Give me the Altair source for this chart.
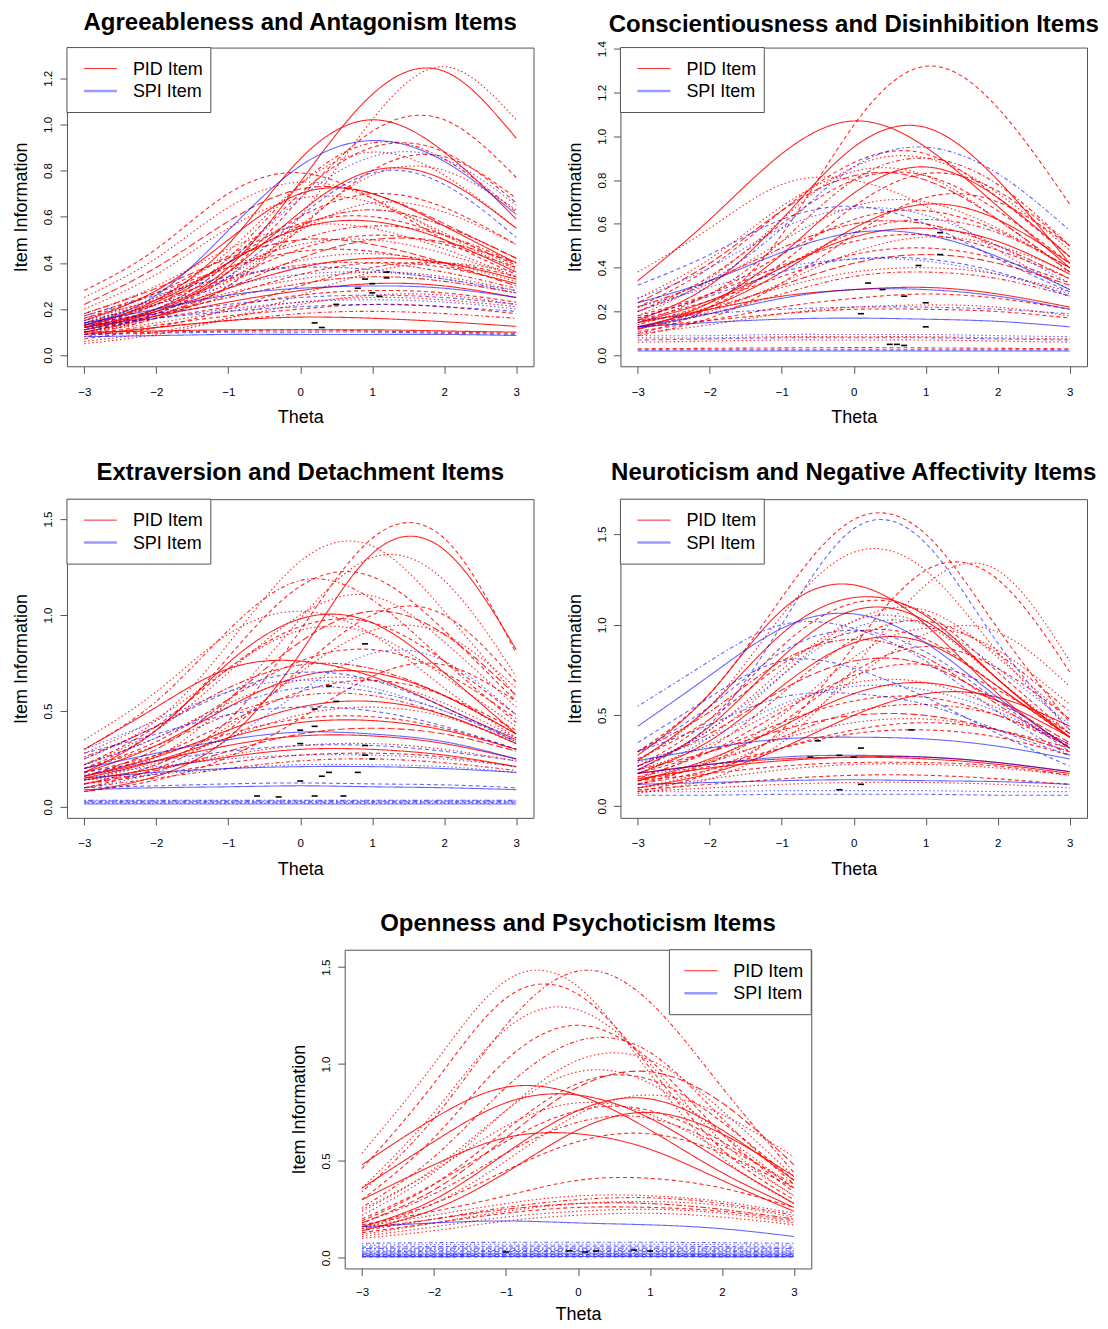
import altair as alt
import pandas as pd

THETA = [-3, -2, -1, 0, 1, 2, 3]
TYPES = ["PID Item", "SPI Item"]
LEGEND_LABELS = ["PID Item", "SPI Item"]
DASH_NAMES = ["S", "D", "O", "DD", "L", "T"]
DASH_PATTERNS = [[1, 0], [4, 3], [1.5, 2.5], [1.5, 2.5, 4, 2.5], [7, 3], [2, 2, 6, 2]]

TITLES = [
    "Agreeableness and Antagonism Items",
    "Conscientiousness and Disinhibition Items",
    "Extraversion and Detachment Items",
    "Neuroticism and Negative Affectivity Items",
    "Openness and Psychoticism Items",
]

# ---------------- Panel 1: Agreeableness / Antagonism ----------------
P1_PID = [
    ("S", [0.12, 0.20, 0.38, 0.75, 1.13, 1.23, 0.94]),
    ("O", [0.10, 0.16, 0.30, 0.60, 1.02, 1.25, 1.02]),
    ("S", [0.12, 0.24, 0.48, 0.85, 1.02, 0.88, 0.59]),
    ("D", [0.10, 0.18, 0.36, 0.68, 0.97, 1.02, 0.77]),
    ("DD", [0.13, 0.22, 0.42, 0.74, 0.92, 0.85, 0.62]),
    ("D", [0.11, 0.20, 0.40, 0.70, 0.90, 0.88, 0.66]),
    ("O", [0.14, 0.25, 0.45, 0.74, 0.88, 0.78, 0.55]),
    ("D", [0.28, 0.46, 0.70, 0.79, 0.68, 0.50, 0.35]),
    ("O", [0.25, 0.42, 0.64, 0.75, 0.68, 0.52, 0.37]),
    ("L", [0.22, 0.38, 0.58, 0.72, 0.70, 0.57, 0.42]),
    ("S", [0.15, 0.28, 0.50, 0.70, 0.70, 0.56, 0.40]),
    ("S", [0.13, 0.23, 0.40, 0.55, 0.58, 0.50, 0.36]),
    ("D", [0.12, 0.22, 0.40, 0.60, 0.70, 0.64, 0.48]),
    ("O", [0.11, 0.19, 0.34, 0.54, 0.66, 0.62, 0.48]),
    ("T", [0.14, 0.24, 0.40, 0.56, 0.63, 0.56, 0.42]),
    ("D", [0.16, 0.27, 0.43, 0.57, 0.60, 0.52, 0.39]),
    ("O", [0.18, 0.30, 0.46, 0.56, 0.55, 0.46, 0.34]),
    ("DD", [0.13, 0.22, 0.36, 0.50, 0.56, 0.52, 0.40]),
    ("D", [0.12, 0.20, 0.33, 0.46, 0.52, 0.48, 0.38]),
    ("O", [0.15, 0.25, 0.38, 0.48, 0.50, 0.44, 0.34]),
    ("L", [0.10, 0.17, 0.29, 0.42, 0.50, 0.49, 0.40]),
    ("D", [0.17, 0.27, 0.38, 0.45, 0.45, 0.39, 0.31]),
    ("O", [0.14, 0.22, 0.32, 0.41, 0.44, 0.40, 0.32]),
    ("S", [0.12, 0.19, 0.29, 0.38, 0.42, 0.40, 0.33]),
    ("DD", [0.16, 0.24, 0.33, 0.39, 0.40, 0.36, 0.29]),
    ("D", [0.11, 0.17, 0.26, 0.35, 0.40, 0.38, 0.31]),
    ("O", [0.13, 0.19, 0.27, 0.33, 0.36, 0.34, 0.28]),
    ("T", [0.12, 0.18, 0.25, 0.31, 0.34, 0.32, 0.27]),
    ("S", [0.12, 0.17, 0.23, 0.28, 0.31, 0.30, 0.25]),
    ("D", [0.11, 0.16, 0.21, 0.26, 0.28, 0.27, 0.23]),
    ("O", [0.10, 0.14, 0.19, 0.23, 0.25, 0.24, 0.21]),
    ("D", [0.09, 0.13, 0.17, 0.20, 0.22, 0.21, 0.18]),
    ("DD", [0.08, 0.12, 0.15, 0.18, 0.19, 0.18, 0.16]),
    ("S", [0.09, 0.12, 0.15, 0.165, 0.16, 0.145, 0.125]),
    ("S", [0.10, 0.105, 0.11, 0.11, 0.11, 0.105, 0.10]),
    ("D", [0.09, 0.10, 0.105, 0.11, 0.105, 0.10, 0.095]),
    ("O", [0.06, 0.10, 0.16, 0.22, 0.26, 0.26, 0.22]),
    ("D", [0.07, 0.12, 0.20, 0.30, 0.38, 0.40, 0.34]),
    ("O", [0.05, 0.09, 0.16, 0.26, 0.36, 0.40, 0.36]),
    ("L", [0.18, 0.29, 0.42, 0.50, 0.48, 0.40, 0.30]),
    ("O", [0.20, 0.35, 0.55, 0.68, 0.66, 0.53, 0.38]),
    ("D", [0.09, 0.16, 0.30, 0.55, 0.80, 0.86, 0.68]),
    ("O", [0.10, 0.17, 0.32, 0.56, 0.78, 0.80, 0.63]),
    ("S", [0.11, 0.19, 0.36, 0.62, 0.80, 0.76, 0.55]),
]
P1_SPI = [
    ("S", [0.13, 0.26, 0.54, 0.82, 0.93, 0.84, 0.61]),
    ("O", [0.11, 0.20, 0.40, 0.68, 0.86, 0.85, 0.65]),
    ("D", [0.10, 0.18, 0.34, 0.60, 0.79, 0.74, 0.51]),
    ("DD", [0.17, 0.26, 0.34, 0.38, 0.37, 0.33, 0.28]),
    ("S", [0.14, 0.20, 0.26, 0.29, 0.30, 0.29, 0.25]),
    ("D", [0.14, 0.18, 0.22, 0.25, 0.26, 0.25, 0.22]),
    ("O", [0.12, 0.16, 0.20, 0.23, 0.24, 0.23, 0.20]),
    ("D", [0.13, 0.16, 0.19, 0.21, 0.22, 0.21, 0.19]),
    ("S", [0.08, 0.085, 0.09, 0.09, 0.09, 0.09, 0.085]),
    ("D", [0.09, 0.095, 0.10, 0.10, 0.10, 0.095, 0.09]),
    ("O", [0.15, 0.22, 0.30, 0.35, 0.36, 0.33, 0.27]),
]
P1_MARK_T = [1.2, 0.9, 0.8, 1.0, 1.0, 1.1, 0.5, 0.2, 0.3, 1.2]
P1_MARK_V = [0.36, 0.33, 0.29, 0.31, 0.27, 0.255, 0.22, 0.14, 0.12, 0.335]

# ---------------- Panel 2: Conscientiousness / Disinhibition ----------------
P2_PID = [
    ("D", [0.10, 0.22, 0.55, 1.05, 1.32, 1.13, 0.69]),
    ("S", [0.34, 0.62, 0.92, 1.07, 0.95, 0.68, 0.40]),
    ("S", [0.16, 0.32, 0.62, 0.95, 1.04, 0.80, 0.42]),
    ("D", [0.22, 0.40, 0.66, 0.88, 0.92, 0.72, 0.45]),
    ("O", [0.18, 0.35, 0.62, 0.86, 0.90, 0.74, 0.48]),
    ("DD", [0.15, 0.28, 0.52, 0.80, 0.90, 0.78, 0.50]),
    ("O", [0.38, 0.58, 0.78, 0.80, 0.68, 0.48, 0.30]),
    ("L", [0.24, 0.42, 0.66, 0.82, 0.80, 0.62, 0.38]),
    ("D", [0.12, 0.22, 0.42, 0.68, 0.83, 0.75, 0.50]),
    ("S", [0.13, 0.22, 0.38, 0.58, 0.69, 0.62, 0.42]),
    ("O", [0.20, 0.33, 0.52, 0.68, 0.70, 0.58, 0.40]),
    ("D", [0.17, 0.28, 0.46, 0.62, 0.66, 0.57, 0.40]),
    ("T", [0.22, 0.34, 0.49, 0.60, 0.60, 0.50, 0.35]),
    ("DD", [0.14, 0.24, 0.40, 0.56, 0.62, 0.56, 0.40]),
    ("S", [0.15, 0.25, 0.40, 0.54, 0.58, 0.52, 0.37]),
    ("D", [0.18, 0.28, 0.41, 0.52, 0.55, 0.48, 0.35]),
    ("O", [0.12, 0.20, 0.33, 0.47, 0.54, 0.50, 0.38]),
    ("D", [0.16, 0.25, 0.36, 0.46, 0.49, 0.44, 0.33]),
    ("L", [0.13, 0.21, 0.32, 0.42, 0.46, 0.42, 0.32]),
    ("O", [0.15, 0.22, 0.31, 0.38, 0.40, 0.37, 0.29]),
    ("DD", [0.12, 0.19, 0.28, 0.36, 0.38, 0.35, 0.27]),
    ("S", [0.15, 0.21, 0.27, 0.30, 0.31, 0.28, 0.22]),
    ("D", [0.11, 0.16, 0.22, 0.26, 0.28, 0.26, 0.21]),
    ("O", [0.10, 0.14, 0.19, 0.22, 0.23, 0.22, 0.18]),
    ("D", [0.13, 0.16, 0.19, 0.21, 0.21, 0.20, 0.17]),
    ("O", [0.06, 0.065, 0.07, 0.07, 0.07, 0.065, 0.06]),
    ("D", [0.03, 0.032, 0.034, 0.035, 0.034, 0.032, 0.03]),
    ("O", [0.08, 0.08, 0.085, 0.085, 0.085, 0.08, 0.075]),
    ("D", [0.20, 0.36, 0.60, 0.80, 0.82, 0.66, 0.42]),
    ("O", [0.26, 0.44, 0.68, 0.84, 0.82, 0.62, 0.38]),
    ("D", [0.09, 0.17, 0.33, 0.55, 0.72, 0.70, 0.50]),
    ("S", [0.12, 0.24, 0.46, 0.74, 0.86, 0.72, 0.45]),
]
P2_SPI = [
    ("DD", [0.20, 0.34, 0.58, 0.86, 0.95, 0.83, 0.57]),
    ("S", [0.24, 0.34, 0.47, 0.56, 0.55, 0.45, 0.30]),
    ("D", [0.32, 0.46, 0.62, 0.68, 0.60, 0.44, 0.29]),
    ("O", [0.22, 0.31, 0.40, 0.44, 0.43, 0.37, 0.28]),
    ("D", [0.17, 0.27, 0.38, 0.44, 0.44, 0.38, 0.27]),
    ("S", [0.13, 0.19, 0.26, 0.30, 0.30, 0.27, 0.21]),
    ("S", [0.13, 0.15, 0.165, 0.17, 0.165, 0.155, 0.13]),
    ("DD", [0.16, 0.19, 0.21, 0.22, 0.22, 0.21, 0.19]),
    ("D", [0.07, 0.075, 0.08, 0.08, 0.08, 0.075, 0.07]),
    ("S", [0.02, 0.02, 0.02, 0.02, 0.02, 0.02, 0.02]),
    ("D", [0.025, 0.025, 0.025, 0.025, 0.025, 0.025, 0.025]),
    ("O", [0.09, 0.09, 0.095, 0.095, 0.095, 0.09, 0.085]),
    ("O", [0.26, 0.40, 0.58, 0.67, 0.64, 0.50, 0.33]),
]
P2_MARK_T = [1.2, 1.2, 0.9, 0.2, 0.4, 0.7, 1.0, 0.1, 1.0, 0.5, 0.7, 0.6]
P2_MARK_V = [0.56, 0.46, 0.41, 0.33, 0.30, 0.27, 0.24, 0.19, 0.13, 0.05, 0.045, 0.05]

# ---------------- Panel 3: Extraversion / Detachment ----------------
P3_PID = [
    ("D", [0.12, 0.22, 0.45, 0.92, 1.40, 1.40, 0.80]),
    ("S", [0.08, 0.16, 0.36, 0.80, 1.32, 1.34, 0.82]),
    ("O", [0.25, 0.45, 0.85, 1.28, 1.36, 1.02, 0.58]),
    ("O", [0.14, 0.26, 0.55, 0.98, 1.30, 1.18, 0.68]),
    ("D", [0.20, 0.40, 0.78, 1.15, 1.20, 0.92, 0.55]),
    ("DD", [0.30, 0.55, 0.92, 1.18, 1.08, 0.76, 0.44]),
    ("S", [0.18, 0.40, 0.75, 0.98, 0.96, 0.70, 0.38]),
    ("S", [0.30, 0.52, 0.72, 0.76, 0.68, 0.52, 0.35]),
    ("O", [0.35, 0.60, 0.90, 1.02, 0.90, 0.62, 0.36]),
    ("D", [0.22, 0.42, 0.72, 0.94, 0.96, 0.76, 0.48]),
    ("L", [0.16, 0.30, 0.56, 0.86, 1.02, 0.90, 0.58]),
    ("O", [0.12, 0.22, 0.42, 0.70, 0.92, 0.90, 0.62]),
    ("D", [0.20, 0.34, 0.56, 0.76, 0.82, 0.70, 0.46]),
    ("T", [0.26, 0.42, 0.62, 0.74, 0.72, 0.58, 0.38]),
    ("S", [0.18, 0.32, 0.52, 0.68, 0.70, 0.58, 0.38]),
    ("O", [0.22, 0.36, 0.54, 0.66, 0.66, 0.54, 0.36]),
    ("D", [0.16, 0.27, 0.44, 0.60, 0.66, 0.58, 0.40]),
    ("DD", [0.20, 0.32, 0.48, 0.58, 0.58, 0.48, 0.33]),
    ("S", [0.16, 0.26, 0.40, 0.52, 0.55, 0.48, 0.33]),
    ("O", [0.14, 0.23, 0.36, 0.48, 0.52, 0.47, 0.34]),
    ("D", [0.18, 0.27, 0.38, 0.46, 0.47, 0.41, 0.30]),
    ("S", [0.16, 0.24, 0.32, 0.37, 0.37, 0.33, 0.25]),
    ("O", [0.14, 0.20, 0.27, 0.32, 0.33, 0.30, 0.24]),
    ("D", [0.12, 0.17, 0.23, 0.27, 0.28, 0.26, 0.21]),
    ("DD", [0.10, 0.15, 0.20, 0.24, 0.25, 0.23, 0.19]),
    ("O", [0.28, 0.46, 0.72, 0.92, 0.90, 0.68, 0.42]),
    ("D", [0.10, 0.20, 0.40, 0.72, 1.00, 1.00, 0.65]),
    ("S", [0.15, 0.24, 0.36, 0.44, 0.45, 0.40, 0.30]),
    ("L", [0.12, 0.19, 0.29, 0.38, 0.41, 0.38, 0.29]),
    ("O", [0.22, 0.40, 0.70, 1.00, 1.10, 0.86, 0.52]),
    ("D", [0.08, 0.14, 0.26, 0.46, 0.68, 0.74, 0.55]),
    ("S", [0.14, 0.20, 0.26, 0.30, 0.30, 0.27, 0.21]),
]
P3_SPI = [
    ("O", [0.10, 0.18, 0.35, 0.60, 0.80, 0.76, 0.48]),
    ("D", [0.25, 0.42, 0.60, 0.70, 0.66, 0.52, 0.34]),
    ("O", [0.30, 0.45, 0.60, 0.66, 0.62, 0.50, 0.36]),
    ("DD", [0.22, 0.36, 0.52, 0.62, 0.60, 0.50, 0.34]),
    ("S", [0.20, 0.28, 0.35, 0.39, 0.38, 0.34, 0.25]),
    ("D", [0.18, 0.24, 0.29, 0.32, 0.32, 0.29, 0.24]),
    ("O", [0.17, 0.21, 0.25, 0.27, 0.27, 0.25, 0.21]),
    ("S", [0.15, 0.18, 0.20, 0.21, 0.21, 0.20, 0.18]),
    ("D", [0.10, 0.11, 0.12, 0.125, 0.12, 0.115, 0.10]),
    ("S", [0.09, 0.10, 0.105, 0.11, 0.105, 0.10, 0.09]),
    ("D", [0.025, 0.025, 0.025, 0.025, 0.025, 0.025, 0.025]),
    ("O", [0.02, 0.02, 0.02, 0.02, 0.02, 0.02, 0.02]),
    ("DD", [0.03, 0.03, 0.03, 0.03, 0.03, 0.03, 0.03]),
    ("S", [0.015, 0.015, 0.015, 0.015, 0.015, 0.015, 0.015]),
    ("T", [0.035, 0.035, 0.035, 0.035, 0.035, 0.035, 0.035]),
    ("D", [0.28, 0.38, 0.48, 0.52, 0.50, 0.42, 0.30]),
    ("O", [0.14, 0.17, 0.20, 0.22, 0.22, 0.21, 0.18]),
]
P3_MARK_T = [0.9, 0.4, 0.5, 0.2, 0.0, 0.2, 0.0, 0.9, 0.9, 1.0, 0.8, 0.3, 0.4, 0.0, -0.6, -0.3, 0.2, 0.6]
P3_MARK_V = [0.85, 0.63, 0.55, 0.51, 0.40, 0.42, 0.33, 0.32, 0.27, 0.25, 0.18, 0.16, 0.18, 0.135, 0.057, 0.052, 0.057, 0.057]

# ---------------- Panel 4: Neuroticism / Negative Affectivity ----------------
P4_PID = [
    ("D", [0.30, 0.62, 1.15, 1.58, 1.50, 0.98, 0.46]),
    ("O", [0.25, 0.55, 1.05, 1.40, 1.30, 0.85, 0.42]),
    ("D", [0.08, 0.18, 0.42, 0.88, 1.30, 1.25, 0.74]),
    ("O", [0.07, 0.15, 0.35, 0.76, 1.22, 1.30, 0.80]),
    ("S", [0.28, 0.62, 1.08, 1.22, 1.00, 0.62, 0.32]),
    ("S", [0.25, 0.55, 0.95, 1.15, 1.05, 0.70, 0.38]),
    ("D", [0.22, 0.48, 0.88, 1.12, 1.06, 0.74, 0.40]),
    ("O", [0.18, 0.38, 0.72, 1.02, 1.08, 0.82, 0.48]),
    ("S", [0.20, 0.44, 0.82, 1.08, 1.02, 0.70, 0.38]),
    ("DD", [0.15, 0.32, 0.62, 0.92, 1.02, 0.84, 0.52]),
    ("D", [0.26, 0.48, 0.78, 0.96, 0.92, 0.66, 0.38]),
    ("O", [0.12, 0.25, 0.50, 0.82, 0.98, 0.86, 0.56]),
    ("S", [0.18, 0.36, 0.66, 0.90, 0.90, 0.66, 0.38]),
    ("L", [0.22, 0.40, 0.64, 0.80, 0.78, 0.58, 0.35]),
    ("D", [0.16, 0.30, 0.52, 0.72, 0.78, 0.64, 0.40]),
    ("O", [0.20, 0.34, 0.54, 0.68, 0.68, 0.54, 0.34]),
    ("S", [0.14, 0.26, 0.44, 0.62, 0.68, 0.58, 0.38]),
    ("D", [0.18, 0.30, 0.46, 0.58, 0.60, 0.50, 0.33]),
    ("DD", [0.14, 0.24, 0.38, 0.52, 0.56, 0.50, 0.34]),
    ("O", [0.16, 0.25, 0.37, 0.46, 0.48, 0.42, 0.30]),
    ("D", [0.14, 0.22, 0.32, 0.40, 0.42, 0.38, 0.28]),
    ("S", [0.18, 0.23, 0.26, 0.27, 0.26, 0.23, 0.18]),
    ("S", [0.15, 0.21, 0.25, 0.27, 0.27, 0.24, 0.19]),
    ("D", [0.14, 0.18, 0.22, 0.24, 0.24, 0.22, 0.17]),
    ("O", [0.10, 0.15, 0.20, 0.23, 0.23, 0.21, 0.17]),
    ("D", [0.09, 0.12, 0.15, 0.17, 0.17, 0.15, 0.12]),
    ("O", [0.08, 0.10, 0.12, 0.13, 0.13, 0.12, 0.10]),
    ("T", [0.30, 0.52, 0.80, 0.92, 0.82, 0.56, 0.32]),
    ("O", [0.10, 0.20, 0.40, 0.70, 0.95, 0.96, 0.66]),
    ("D", [0.12, 0.24, 0.46, 0.74, 0.88, 0.76, 0.48]),
    ("S", [0.10, 0.18, 0.32, 0.50, 0.62, 0.60, 0.44]),
    ("O", [0.22, 0.42, 0.75, 1.02, 1.00, 0.70, 0.40]),
    ("D", [0.12, 0.20, 0.32, 0.42, 0.46, 0.42, 0.32]),
    ("L", [0.20, 0.30, 0.42, 0.50, 0.50, 0.42, 0.30]),
]
P4_SPI = [
    ("D", [0.20, 0.45, 1.00, 1.53, 1.45, 0.90, 0.42]),
    ("S", [0.44, 0.72, 0.98, 1.06, 0.90, 0.60, 0.32]),
    ("DD", [0.55, 0.80, 1.00, 0.98, 0.80, 0.52, 0.28]),
    ("O", [0.22, 0.42, 0.72, 0.98, 1.00, 0.76, 0.45]),
    ("D", [0.30, 0.55, 0.85, 0.97, 0.85, 0.58, 0.30]),
    ("D", [0.35, 0.60, 0.80, 0.76, 0.60, 0.40, 0.22]),
    ("DD", [0.30, 0.45, 0.60, 0.62, 0.56, 0.42, 0.28]),
    ("S", [0.25, 0.32, 0.37, 0.38, 0.37, 0.33, 0.26]),
    ("S", [0.12, 0.13, 0.14, 0.145, 0.14, 0.135, 0.12]),
    ("D", [0.06, 0.06, 0.065, 0.065, 0.065, 0.06, 0.06]),
    ("O", [0.08, 0.08, 0.085, 0.085, 0.085, 0.08, 0.08]),
    ("S", [0.18, 0.23, 0.27, 0.28, 0.27, 0.24, 0.19]),
    ("O", [0.24, 0.38, 0.56, 0.66, 0.64, 0.52, 0.34]),
]
P4_MARK_T = [0.8, -0.5, 0.1, -0.6, -0.2, 0.0, 0.1, -0.2]
P4_MARK_V = [0.42, 0.36, 0.32, 0.27, 0.28, 0.27, 0.12, 0.09]

# ---------------- Panel 5: Openness / Psychoticism ----------------
P5_PID = [
    ("O", [0.54, 1.00, 1.43, 1.40, 0.95, 0.52, 0.28]),
    ("DD", [0.34, 0.72, 1.20, 1.48, 1.32, 0.88, 0.44]),
    ("D", [0.46, 0.90, 1.34, 1.36, 0.98, 0.56, 0.30]),
    ("O", [0.36, 0.75, 1.18, 1.28, 1.00, 0.60, 0.32]),
    ("D", [0.30, 0.62, 1.02, 1.20, 1.02, 0.64, 0.34]),
    ("DD", [0.26, 0.52, 0.88, 1.12, 1.06, 0.72, 0.38]),
    ("O", [0.22, 0.44, 0.76, 1.02, 1.02, 0.76, 0.42]),
    ("L", [0.18, 0.35, 0.62, 0.88, 0.96, 0.80, 0.48]),
    ("O", [0.15, 0.28, 0.50, 0.74, 0.84, 0.74, 0.52]),
    ("S", [0.48, 0.72, 0.88, 0.84, 0.66, 0.44, 0.26]),
    ("S", [0.36, 0.60, 0.80, 0.84, 0.72, 0.50, 0.28]),
    ("S", [0.16, 0.30, 0.54, 0.76, 0.82, 0.66, 0.40]),
    ("S", [0.14, 0.25, 0.44, 0.66, 0.75, 0.64, 0.42]),
    ("S", [0.30, 0.48, 0.62, 0.64, 0.56, 0.40, 0.24]),
    ("D", [0.20, 0.38, 0.60, 0.76, 0.76, 0.60, 0.36]),
    ("O", [0.25, 0.45, 0.68, 0.80, 0.74, 0.55, 0.32]),
    ("DD", [0.18, 0.33, 0.54, 0.70, 0.72, 0.58, 0.38]),
    ("D", [0.16, 0.28, 0.45, 0.60, 0.64, 0.54, 0.36]),
    ("D", [0.17, 0.24, 0.32, 0.40, 0.41, 0.36, 0.26]),
    ("O", [0.16, 0.22, 0.28, 0.32, 0.32, 0.29, 0.23]),
    ("DD", [0.14, 0.20, 0.26, 0.30, 0.31, 0.28, 0.22]),
    ("O", [0.12, 0.18, 0.24, 0.28, 0.29, 0.27, 0.21]),
    ("D", [0.13, 0.18, 0.23, 0.26, 0.26, 0.24, 0.19]),
    ("O", [0.11, 0.16, 0.21, 0.24, 0.25, 0.23, 0.18]),
    ("T", [0.15, 0.20, 0.25, 0.28, 0.28, 0.25, 0.20]),
    ("O", [0.10, 0.14, 0.19, 0.22, 0.23, 0.21, 0.17]),
    ("D", [0.19, 0.38, 0.66, 0.90, 0.92, 0.70, 0.40]),
    ("O", [0.24, 0.46, 0.76, 0.96, 0.90, 0.64, 0.36]),
]
P5_SPI = [
    ("S", [0.16, 0.18, 0.19, 0.18, 0.17, 0.15, 0.11]),
    ("DD", [0.075, 0.078, 0.08, 0.08, 0.08, 0.078, 0.075]),
    ("O", [0.065, 0.068, 0.07, 0.07, 0.07, 0.068, 0.065]),
    ("D", [0.055, 0.058, 0.06, 0.06, 0.06, 0.058, 0.055]),
    ("T", [0.048, 0.05, 0.05, 0.05, 0.05, 0.05, 0.048]),
    ("O", [0.04, 0.042, 0.043, 0.043, 0.043, 0.042, 0.04]),
    ("DD", [0.035, 0.036, 0.037, 0.037, 0.037, 0.036, 0.035]),
    ("D", [0.03, 0.031, 0.032, 0.032, 0.032, 0.031, 0.03]),
    ("O", [0.025, 0.026, 0.026, 0.026, 0.026, 0.026, 0.025]),
    ("S", [0.02, 0.02, 0.021, 0.021, 0.021, 0.02, 0.02]),
    ("D", [0.016, 0.016, 0.017, 0.017, 0.017, 0.016, 0.016]),
    ("DD", [0.012, 0.012, 0.013, 0.013, 0.013, 0.012, 0.012]),
    ("O", [0.009, 0.009, 0.01, 0.01, 0.01, 0.009, 0.009]),
    ("S", [0.006, 0.006, 0.007, 0.007, 0.007, 0.006, 0.006]),
    ("D", [0.004, 0.004, 0.004, 0.004, 0.004, 0.004, 0.004]),
]
P5_MARK_T = [-1.0, -0.12, 0.1, 0.25, 0.78, 1.0]
P5_MARK_V = [0.03, 0.036, 0.03, 0.035, 0.04, 0.035]

Y_DOMAINS = [[-0.048, 1.333], [-0.05, 1.405], [-0.057, 1.604], [-0.065, 1.693], [-0.055, 1.59]]
Y_TICKS = [[0.0, 0.2, 0.4, 0.6, 0.8, 1.0, 1.2],
           [0.0, 0.2, 0.4, 0.6, 0.8, 1.0, 1.2, 1.4],
           [0.0, 0.5, 1.0, 1.5], [0.0, 0.5, 1.0, 1.5], [0.0, 0.5, 1.0, 1.5]]
TITLE_OFFSETS = [12, 4, 14, 14, 13]
X_LABEL_PAD = [13, 13, 13, 13, 11]
X_TITLE_PAD = [11, 11, 11, 11, 8]

W, H = 467, 319
FONT = "Liberation Sans"


def curves_df(curves, kind):
    rows = []
    for i, (lty, vals) in enumerate(curves):
        for t, v in zip(THETA, vals):
            rows.append({"curve": f"{kind}-{i}", "type": kind, "lty": lty, "theta": t, "info": v})
    return pd.DataFrame(rows)


def panel(idx, pid, spi, mt, mv, legend_right=False):
    x = alt.X("theta:Q", scale=alt.Scale(domain=[-3.24, 3.24], nice=False, zero=False),
              axis=alt.Axis(values=THETA, format="d", title="Theta",
                            labelPadding=X_LABEL_PAD[idx], titlePadding=X_TITLE_PAD[idx]))
    y = alt.Y("info:Q", scale=alt.Scale(domain=Y_DOMAINS[idx], nice=False, zero=False),
              axis=alt.Axis(values=Y_TICKS[idx], format=".1f", title="Item Information"))
    color = alt.Color("type:N", scale=alt.Scale(domain=TYPES, range=["#ff0000", "#0000ff"]), legend=None)
    dash = alt.StrokeDash("lty:N", scale=alt.Scale(domain=DASH_NAMES, range=DASH_PATTERNS), legend=None)
    opac = alt.Opacity("type:N", scale=alt.Scale(domain=TYPES, range=[0.85, 0.6]), legend=None)

    pid_layer = alt.Chart(curves_df(pid, TYPES[0])).mark_line(interpolate="natural", strokeWidth=1.1).encode(
        x=x, y=y, detail="curve:N", color=color, strokeDash=dash, opacity=opac)
    spi_layer = alt.Chart(curves_df(spi, TYPES[1])).mark_line(interpolate="natural", strokeWidth=1.1).encode(
        x=x, y=y, detail="curve:N", color=color, strokeDash=dash, opacity=opac)
    marks = alt.Chart(pd.DataFrame({"theta": mt, "info": mv})).mark_point(
        shape="stroke", size=36, strokeWidth=1.6, color="black", opacity=1, filled=False).encode(x=x, y=y)

    one = pd.DataFrame({"k": [0]})
    bh = 65
    bw = 142 if legend_right else 144
    x0 = W - bw if legend_right else 0
    lx0 = x0 + (15 if legend_right else 17)
    tx = x0 + (64 if legend_right else 66)
    box = alt.Chart(one).mark_rect(fill="white", stroke="#555555", strokeWidth=1).encode(
        x=alt.value(x0), x2=alt.value(x0 + bw), y=alt.value(0), y2=alt.value(bh))
    l1 = alt.Chart(one).mark_rule(color="#ff0000", strokeWidth=1, opacity=0.85).encode(
        x=alt.value(lx0), x2=alt.value(lx0 + 33), y=alt.value(21))
    l2 = alt.Chart(one).mark_rule(color="#0000ff", strokeWidth=2.5, opacity=0.4).encode(
        x=alt.value(lx0), x2=alt.value(lx0 + 33), y=alt.value(43.5))
    t1 = alt.Chart(one).mark_text(text=LEGEND_LABELS[0], align="left", baseline="middle", fontSize=18,
                                   font=FONT, color="black").encode(x=alt.value(tx), y=alt.value(22))
    t2 = alt.Chart(one).mark_text(text=LEGEND_LABELS[1], align="left", baseline="middle", fontSize=18,
                                   font=FONT, color="black").encode(x=alt.value(tx), y=alt.value(44.5))

    return alt.layer(pid_layer, spi_layer, marks, box, l1, l2, t1, t2).properties(
        width=W, height=H,
        title=alt.TitleParams(TITLES[idx], fontSize=24, font=FONT, fontWeight="bold",
                              anchor="middle", frame="group", offset=TITLE_OFFSETS[idx], color="black"))


p1 = panel(0, P1_PID, P1_SPI, P1_MARK_T, P1_MARK_V)
p2 = panel(1, P2_PID, P2_SPI, P2_MARK_T, P2_MARK_V)
p3 = panel(2, P3_PID, P3_SPI, P3_MARK_T, P3_MARK_V)
p4 = panel(3, P4_PID, P4_SPI, P4_MARK_T, P4_MARK_V)
p5 = panel(4, P5_PID, P5_SPI, P5_MARK_T, P5_MARK_V, legend_right=True)

# empty cell that pushes the last panel to its place under the two columns
spacer = alt.Chart(pd.DataFrame({"k": [0]})).mark_point(opacity=0).encode(
    x=alt.value(0), y=alt.value(0)
).properties(width=222, height=H, view=alt.ViewBackground(stroke="transparent", fill="transparent"))

chart = alt.vconcat(
    alt.hconcat(p1, p2, spacing=31),
    alt.hconcat(p3, p4, spacing=31),
    alt.hconcat(spacer, p5, spacing=0),
    spacing=33,
).properties(
    padding={"left": 4, "top": 2, "right": 0, "bottom": 0}
).configure_view(
    stroke="#555555", strokeWidth=1
).configure_axis(
    grid=False, domain=False, tickColor="#555555", tickSize=7, tickWidth=1,
    labelFontSize=11.5, labelColor="black", labelFont=FONT,
    titleFontSize=18, titleFontWeight="normal", titleColor="black", titleFont=FONT
).configure_axisY(
    labelAngle=270, labelAlign="center", labelBaseline="bottom", labelPadding=6, titlePadding=12
)

chart.save("out.html", embed_options={"renderer": "svg", "actions": False})
